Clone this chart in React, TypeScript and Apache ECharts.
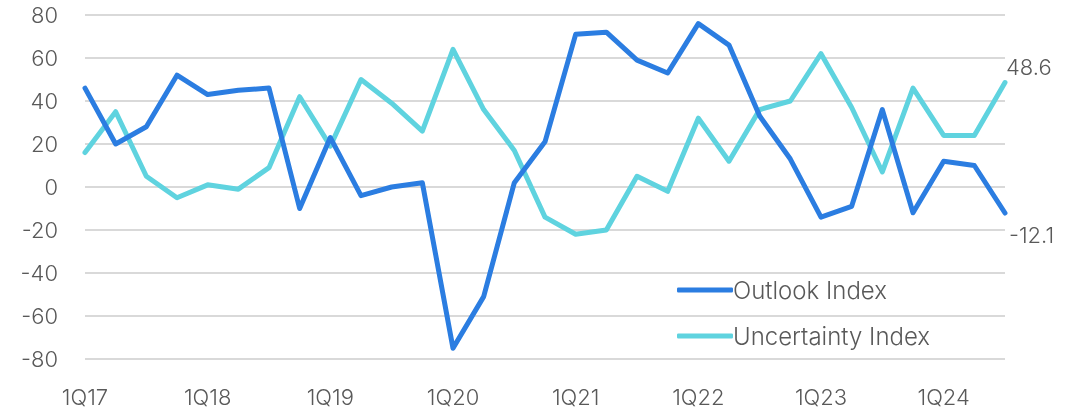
import React, { useEffect, useRef } from "react";
import * as echarts from "echarts";

const quarters: string[] = [
  "1Q17", "2Q17", "3Q17", "4Q17",
  "1Q18", "2Q18", "3Q18", "4Q18",
  "1Q19", "2Q19", "3Q19", "4Q19",
  "1Q20", "2Q20", "3Q20", "4Q20",
  "1Q21", "2Q21", "3Q21", "4Q21",
  "1Q22", "2Q22", "3Q22", "4Q22",
  "1Q23", "2Q23", "3Q23", "4Q23",
  "1Q24", "2Q24", "3Q24",
];

const outlookIndex: number[] = [
  46, 20, 28, 52,
  43, 45, 46, -10,
  23, -4, 0, 2,
  -75, -51, 2, 21,
  71, 72, 59, 53,
  76, 66, 33, 13,
  -14, -9, 36, -12,
  12, 10, -12.1,
];

const uncertaintyIndex: number[] = [
  16, 35, 5, -5,
  1, -1, 9, 42,
  19, 50, 39, 26,
  64, 36, 17, -14,
  -22, -20, 5, -2,
  32, 12, 36, 40,
  62, 37, 7, 46,
  24, 24, 48.6,
];

const yTicks = { min: -80, max: 80, step: 20 };

const FONT = "Inter";
const TEXT = "#595959";
const BLUE = "#2b7de1";
const CYAN = "#5fd3df";

export default function App() {
  const ref = useRef<HTMLDivElement>(null);
  useEffect(() => {
    if (!ref.current) return;
    const chart = echarts.init(ref.current, undefined, { renderer: "svg" });
    chart.setOption({
      animation: false,
      textStyle: { fontFamily: FONT },
      grid: { left: 85, right: 77, top: 15, bottom: 52, containLabel: false },
      legend: {
        orient: "vertical",
        left: 672,
        top: 273,
        itemWidth: 56,
        itemHeight: 5,
        itemGap: 22,
        icon: "roundRect",
        textStyle: { fontFamily: FONT, fontSize: 24, fontWeight: 300, color: TEXT, lineHeight: 24, padding: [0, 0, 0, -5] },
        data: ["Outlook Index", "Uncertainty Index"],
      },
      xAxis: {
        type: "category",
        data: quarters,
        boundaryGap: false,
        axisLine: { show: false },
        axisTick: { show: false },
        axisLabel: {
          interval: 3,
          fontFamily: FONT,
          fontSize: 22,
          fontWeight: 300,
          color: TEXT,
          margin: 27,
        },
      },
      yAxis: {
        type: "value",
        min: yTicks.min,
        max: yTicks.max,
        interval: yTicks.step,
        axisLine: { show: false },
        axisTick: { show: false },
        axisLabel: { fontFamily: FONT, fontSize: 22, fontWeight: 300, color: TEXT, margin: 27 },
        splitLine: { lineStyle: { color: "#d9d9d9", width: 2 } },
      },
      series: [
        {
          name: "Outlook Index",
          type: "line",
          data: outlookIndex,
          symbol: "none",
          color: BLUE,
          itemStyle: { color: BLUE },
          lineStyle: { width: 5, color: BLUE, cap: "round", join: "round" },
          endLabel: {
            show: true,
            formatter: (p: any) => String(p.value),
            fontFamily: FONT,
            fontSize: 22,
            fontWeight: 300,
            color: TEXT,
            offset: [-4, 22],
          },
          z: 3,
        },
        {
          name: "Uncertainty Index",
          type: "line",
          data: uncertaintyIndex,
          symbol: "none",
          color: CYAN,
          itemStyle: { color: CYAN },
          lineStyle: { width: 5, color: CYAN, cap: "round", join: "round" },
          endLabel: {
            show: true,
            formatter: (p: any) => String(p.value),
            fontFamily: FONT,
            fontSize: 22,
            fontWeight: 300,
            color: TEXT,
            offset: [-7, -16],
          },
          z: 2,
        },
      ],
    });
    return () => chart.dispose();
  }, []);
  return (
    <div
      ref={ref}
      style={{ position: "fixed", left: 0, top: 0, width: 1082, height: 411, overflow: "hidden" }}
    />
  );
}
